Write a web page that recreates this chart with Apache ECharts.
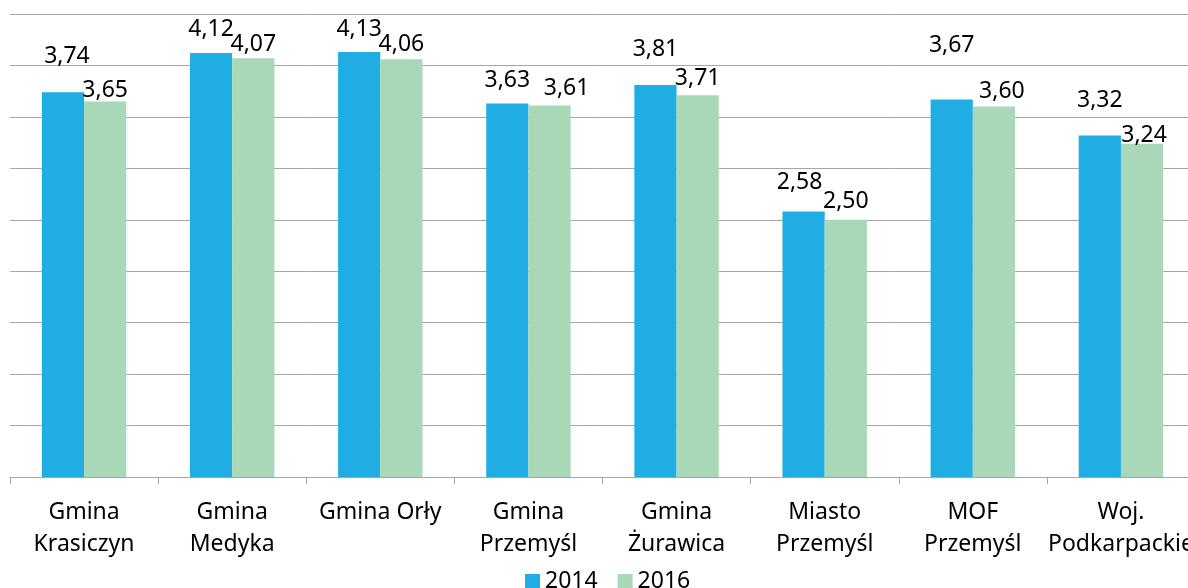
<!DOCTYPE html>
<html>
<head>
<meta charset="utf-8">
<script src="https://cdn.jsdelivr.net/npm/echarts@6/dist/echarts.min.js"></script>
<style>
  html, body { margin: 0; padding: 0; background: #fff; }
  #main { width: 1188px; height: 588px; }
</style>
</head>
<body>
<div id="main"></div>
<script>
// data
const categories = [
  'Gmina\nKrasiczyn', 'Gmina\nMedyka', 'Gmina Orły', 'Gmina\nPrzemyśl',
  'Gmina\nŻurawica', 'Miasto\nPrzemyśl', 'MOF\nPrzemyśl', 'Woj.\nPodkarpackie'
];
const years = ['2014', '2016'];
const values2014 = [3.74, 4.12, 4.13, 3.63, 3.81, 2.58, 3.67, 3.32];
const values2016 = [3.65, 4.07, 4.06, 3.61, 3.71, 2.50, 3.60, 3.24];

// label placement (labels were dragged around in the original)
const labelShift2014 = [[4, -24], [0, -12], [0, -11], [0, -12], [0, -24], [-4, -18], [0, -42], [0, -23]];
const labelShift2016 = [[0, 0], [0, -2], [0, -3], [17, -6], [0, -5], [0, -7], [8, -4], [2, 3]];

const fmt = (p) => p.value.toFixed(2).replace('.', ',');
const FONT = 'Noto Sans';

const withLabels = (vals, shifts) => vals.map((v, i) => ({
  value: v,
  label: { offset: shifts[i] }
}));

var myChart = echarts.init(document.getElementById('main'));
var option = {
  animation: false,
  textStyle: { fontFamily: FONT },
  grid: {
    left: 10,
    right: -7,
    top: 14,
    bottom: 111,
    outerBoundsMode: 'none'
  },
  legend: {
    data: years,
    left: 525,
    top: 570,
    padding: 0,
    icon: 'rect',
    itemWidth: 15,
    itemHeight: 15,
    itemGap: 20,
    textStyle: { fontFamily: FONT, fontSize: 23, color: '#000' }
  },
  xAxis: {
    type: 'category',
    data: categories,
    axisLine: { lineStyle: { color: '#a6a6a6', width: 1 } },
    axisTick: { show: true, length: 7, lineStyle: { color: '#a6a6a6' } },
    axisLabel: {
      interval: 0,
      margin: 19,
      fontFamily: FONT,
      fontSize: 23,
      lineHeight: 32,
      color: '#000'
    }
  },
  yAxis: {
    type: 'value',
    min: 0,
    max: 4.5,
    interval: 0.5,
    axisLine: { show: false },
    axisTick: { show: false },
    axisLabel: { show: false },
    splitLine: { lineStyle: { color: '#a6a6a6', width: 1 } }
  },
  series: [
    {
      name: '2014',
      type: 'bar',
      barGap: '0%',
      barCategoryGap: '43%',
      itemStyle: { color: '#1fade3' },
      label: {
        show: true, position: 'top', distance: 0,
        formatter: fmt, fontFamily: FONT, fontSize: 23, color: '#000'
      },
      data: withLabels(values2014, labelShift2014)
    },
    {
      name: '2016',
      type: 'bar',
      itemStyle: { color: '#a8d8b7' },
      label: {
        show: true, position: 'top', distance: 0,
        formatter: fmt, fontFamily: FONT, fontSize: 23, color: '#000'
      },
      data: withLabels(values2016, labelShift2016)
    }
  ]
};
myChart.setOption(option);
</script>
</body>
</html>
